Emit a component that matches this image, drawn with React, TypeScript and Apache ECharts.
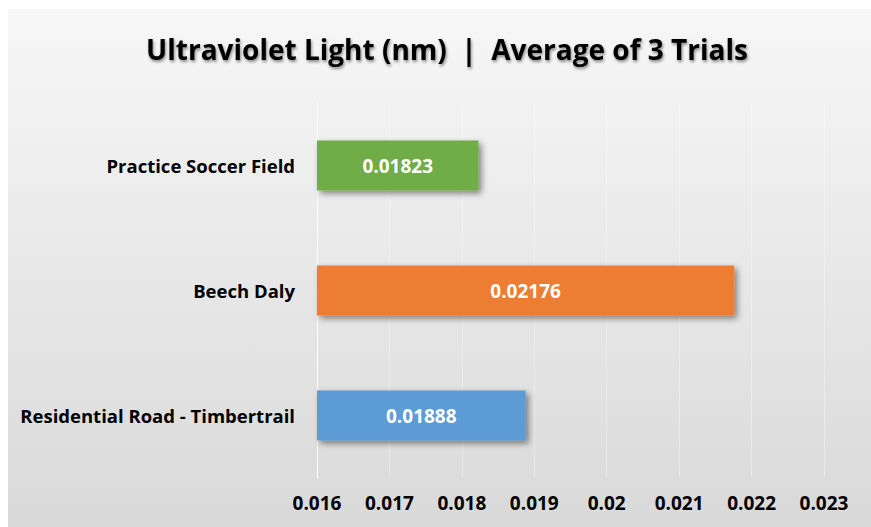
import React, { useEffect, useRef } from "react";
import * as echarts from "echarts";

const categories = ["Residential Road - Timbertrail", "Beech Daly", "Practice Soccer Field"];
const values = [0.01888, 0.02176, 0.01823];
const barColors = ["#5b9bd5", "#ed7d31", "#70ad47"];
const labelTexts = ["0.01888", "0.02176", "0.01823"];
const titleText = "Ultraviolet Light (nm)  |  Average of 3 Trials";
const axisMin = 0.016;
const axisMax = 0.023;
const axisStep = 0.001;

const FONT = "'Open Sans', Lato, sans-serif";

export default function App() {
  const ref = useRef<HTMLDivElement>(null);
  useEffect(() => {
    if (!ref.current) return;
    const chart = echarts.init(ref.current, null, { renderer: "svg" });
    chart.setOption({
      animation: false,
      backgroundColor: "#ffffff",
      graphic: [
        {
          type: "rect",
          z: -10,
          silent: true,
          shape: { x: 8, y: 9, width: 863, height: 518 },
          style: {
            fill: new echarts.graphic.LinearGradient(0, 0, 0, 1, [
              { offset: 0, color: "#f7f7f7" },
              { offset: 1, color: "#d9d9d9" },
            ]),
          },
        },
      ],
      title: {
        text: titleText,
        left: 442,
        textAlign: "center",
        top: 30,
        textStyle: {
          fontFamily: FONT,
          fontWeight: "bold",
          fontSize: 28,
          color: "#000000",
          textShadowColor: "rgba(0,0,0,0.45)",
          textShadowBlur: 3,
          textShadowOffsetX: 1,
          textShadowOffsetY: 2,
        },
      },
      grid: { left: 317, right: 47, top: 103, bottom: 49, containLabel: false },
      xAxis: {
        type: "value",
        min: axisMin,
        max: axisMax,
        interval: axisStep,
        axisLine: { show: false },
        axisTick: { show: false },
        splitLine: { show: true, lineStyle: { color: "rgba(255,255,255,0.35)", width: 1 } },
        axisLabel: {
          margin: 15,
          fontFamily: FONT,
          fontWeight: "bold",
          fontSize: 19,
          color: "#000000",
        },
      },
      yAxis: {
        type: "category",
        data: categories,
        axisLine: { show: true, lineStyle: { color: "rgba(255,255,255,0.85)", width: 1 } },
        axisTick: { show: false },
        axisLabel: {
          margin: 22,
          fontFamily: FONT,
          fontWeight: "bold",
          fontSize: 18.5,
          color: "#000000",
        },
      },
      series: [
        {
          type: "bar",
          barWidth: 50,
          data: values.map((v, i) => ({
            value: v,
            itemStyle: {
              color: barColors[i],
              shadowColor: "rgba(0,0,0,0.45)",
              shadowBlur: 6,
              shadowOffsetX: 3,
              shadowOffsetY: 3,
            },
            label: { formatter: labelTexts[i] },
          })),
          label: {
            show: true,
            position: "inside",
            color: "#ffffff",
            fontFamily: FONT,
            fontWeight: "bold",
            fontSize: 19,
          },
        },
      ],
    });
    return () => chart.dispose();
  }, []);
  return (
    <div
      ref={ref}
      style={{ position: "fixed", left: 0, top: 0, width: 871, height: 527 }}
    />
  );
}
